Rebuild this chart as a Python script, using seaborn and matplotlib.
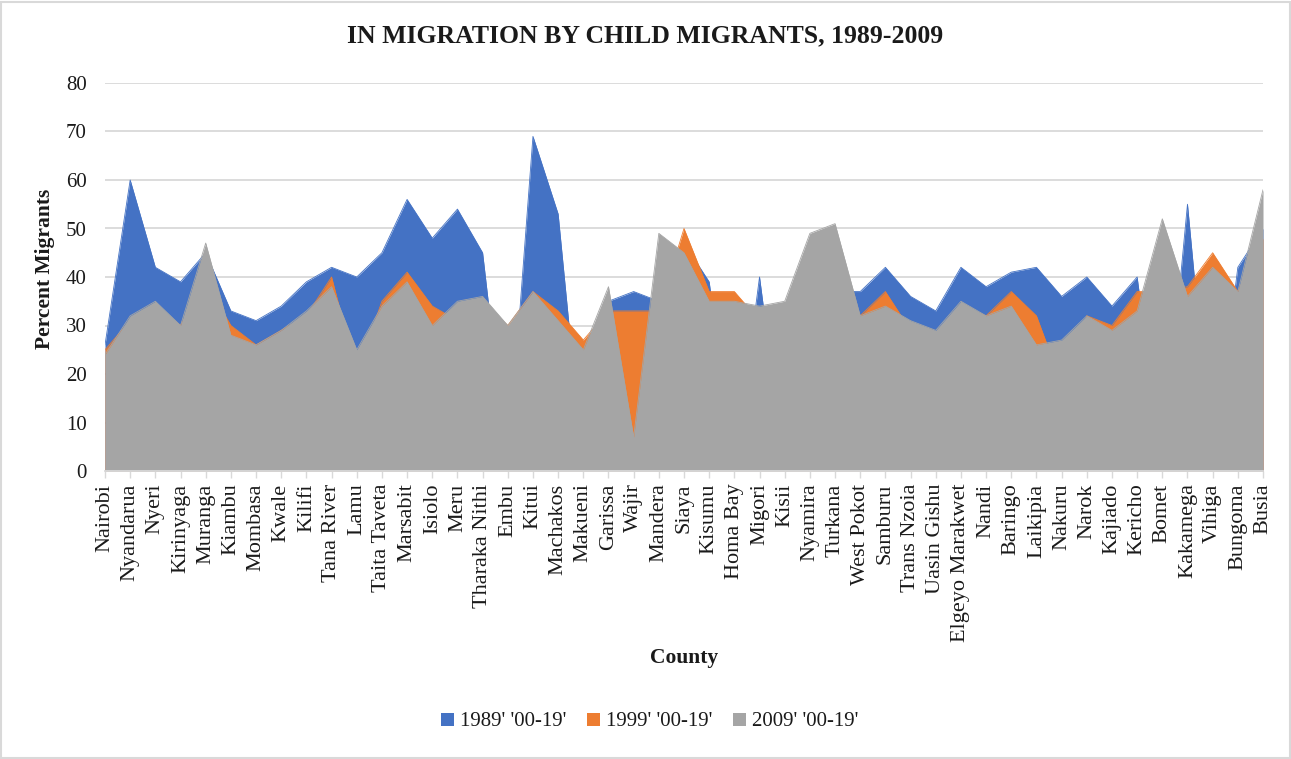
import matplotlib
matplotlib.use("Agg")
import matplotlib.pyplot as plt
from matplotlib.patches import Patch, Rectangle
import numpy as np
import seaborn as sns

# Counties in the order they appear along the horizontal axis
counties = [
    "Nairobi", "Nyandarua", "Nyeri", "Kirinyaga", "Muranga", "Kiambu", "Mombasa",
    "Kwale", "Kilifi", "Tana River", "Lamu", "Taita Taveta", "Marsabit", "Isiolo",
    "Meru", "Tharaka Nithi", "Embu", "Kitui", "Machakos", "Makueni", "Garissa",
    "Wajir", "Mandera", "Siaya", "Kisumu", "Homa Bay", "Migori", "Kisii", "Nyamira",
    "Turkana", "West Pokot", "Samburu", "Trans Nzoia", "Uasin Gishu",
    "Elgeyo Marakwet", "Nandi", "Baringo", "Laikipia", "Nakuru", "Narok", "Kajiado",
    "Kericho", "Bomet", "Kakamega", "Vihiga", "Bungoma", "Busia",
]

# Percent of in-migrants aged 0-19 per census year (None = no figure; plotted as zero)
pct_1989 = [
    26, 60, 42, 39, 45, 33, 31, 34, 39, 42, 40, 45, 56, 48, 54, 45, None, 69, 53,
    None, 35, 37, 35, 47, 39, None, 40, None, 42, 37, 37, 42, 36, 33, 42, 38, 41,
    42, 36, 40, 34, 40, None, 55, None, 42, 50,
]
pct_1999 = [
    25, 31, 34, 30, 39, 30, 26, 29, 32, 40, 20, 35, 41, 34, 31, 35, 30, 37, 33,
    27, 33, 33, 33, 50, 37, 37, 31, 34, 45, 44, 32, 37, 29, 28, 34, 32, 37, 32,
    18, 32, 30, 37, 37, 38, 45, 37, 48,
]
pct_2009 = [
    24, 32, 35, 30, 47, 28, 26, 29, 33, 38, 25, 34, 39, 30, 35, 36, 30, 37, 31,
    25, 38, 7, 49, 45, 35, 35, 34, 35, 49, 51, 32, 34, 31, 29, 35, 32, 34, 26,
    27, 32, 29, 33, 52, 36, 42, 37, 58,
]

series_names = ["1989' '00-19'", "1999' '00-19'", "2009' '00-19'"]
series_colors = ["#4472C4", "#ED7D31", "#A5A5A5"]
y_ticks = [0, 10, 20, 30, 40, 50, 60, 70, 80]

sns.set_theme(style="white")
plt.rcParams["font.family"] = ["Liberation Serif", "DejaVu Serif"]

W, H = 1291, 759
fig = plt.figure(figsize=(W / 100, H / 100), dpi=100)
fig.patch.set_facecolor("white")

ax = fig.add_axes([105 / W, 1 - 471 / H, (1263 - 105) / W, (471 - 83) / H])

x = np.arange(len(counties))
for i, (vals, name, col) in enumerate(zip([pct_1989, pct_1999, pct_2009], series_names, series_colors)):
    y = np.array([0 if v is None else v for v in vals], dtype=float)
    z = 2 + i
    ax.fill_between(x, y, 0, color=col, lw=0, zorder=z)
    sns.lineplot(x=x, y=y, color=col, lw=0.6, ax=ax, zorder=z, legend=False)

ax.set_xlim(0, len(counties) - 1)
ax.set_ylim(0, 80)
ax.set_yticks(y_ticks)
ax.set_yticklabels([str(t) for t in y_ticks], fontsize=15, color="#1a1a1a")
ax.set_xticks(x)
ax.set_xticklabels(counties, rotation=90, fontsize=16, color="#1a1a1a",
                   ha="center", va="top")
ax.tick_params(axis="y", length=0, pad=13)
ax.tick_params(axis="x", direction="out", length=5, width=1, color="#D9D9D9", pad=4,
               bottom=True)
ax.grid(axis="y", color="#D9D9D9", lw=1.3, zorder=0)
ax.set_axisbelow(True)
for side in ["left", "right", "top"]:
    ax.spines[side].set_visible(False)
ax.spines["bottom"].set_color("#D9D9D9")
ax.spines["bottom"].set_linewidth(1.3)
ax.spines["bottom"].set_zorder(10)
ax.set_xlabel("")
ax.set_ylabel("")

fig.text(645 / W, 1 - 36 / H, "IN MIGRATION BY CHILD MIGRANTS, 1989-2009",
         ha="center", va="center", fontsize=18.5, fontweight="bold", color="#1a1a1a")
fig.text(45 / W, 1 - 269 / H, "Percent Migrants", rotation=90,
         ha="center", va="center", fontsize=15.5, fontweight="bold", color="#1a1a1a")
fig.text(684 / W, 1 - 658 / H, "County", ha="center", va="center",
         fontsize=15.5, fontweight="bold", color="#1a1a1a")

handles = [Patch(facecolor=c, edgecolor="none", label=n) for n, c in zip(series_names, series_colors)]
fig.legend(handles=handles, loc="center", bbox_to_anchor=(650 / W, 1 - 722 / H),
           ncol=3, frameon=False, fontsize=15, handlelength=0.6, handleheight=0.6,
           handletextpad=0.3, columnspacing=1.0, labelcolor="#1a1a1a")

fig.patches.append(Rectangle((0.001, 0.001), 0.998, 0.997, transform=fig.transFigure,
                             fill=False, ec="#D9D9D9", lw=1.5))

fig.savefig("out.png", dpi=100, facecolor="white")
